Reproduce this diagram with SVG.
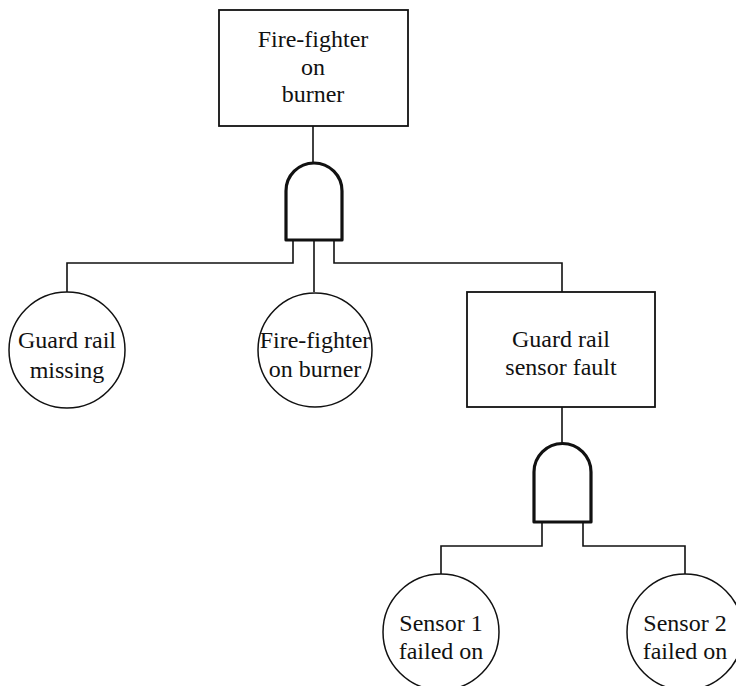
<svg xmlns="http://www.w3.org/2000/svg" width="736" height="686" viewBox="0 0 736 686">
<style>
.box{fill:#fff;stroke:#111;stroke-width:1.8}
.ev{fill:#fff;stroke:#111;stroke-width:1.5}
.gate{fill:#fff;stroke:#111;stroke-width:3.2;stroke-linejoin:round}
.wire{fill:none;stroke:#111;stroke-width:1.6}
text{font-family:"Liberation Serif","Times New Roman",serif;font-size:24px;fill:#111;text-anchor:middle}
</style>
<rect width="736" height="686" fill="#fff"/>
<g id="connectors">
<path class="wire" d="M313,126 V163"/>
<path class="wire" d="M293,240 V263 H67 V292"/>
<path class="wire" d="M314,240 V292"/>
<path class="wire" d="M334,240 V263 H562 V292"/>
<path class="wire" d="M562,407 V444"/>
<path class="wire" d="M542,522 V546 H441 V574"/>
<path class="wire" d="M583,522 V546 H685 V574"/>
</g>
<g id="top">
<rect class="box" x="219" y="10" width="189" height="116"/>
<text x="313" y="47">Fire-fighter</text>
<text x="313" y="75">on</text>
<text x="313" y="102">burner</text>
</g>
<g id="gate1">
<path class="gate" d="M286,240 V191 A28,28 0 0 1 342,191 V240 Z"/>
</g>
<g id="guard-rail-missing">
<circle class="ev" cx="67" cy="350" r="58"/>
<text x="67" y="348">Guard rail</text>
<text x="67" y="378">missing</text>
</g>
<g id="fire-fighter-on-burner">
<circle class="ev" cx="315" cy="350" r="57"/>
<text x="315" y="348">Fire-fighter</text>
<text x="315" y="377">on burner</text>
</g>
<g id="guard-rail-sensor-fault">
<rect class="box" x="467" y="292" width="188" height="115"/>
<text x="561" y="347">Guard rail</text>
<text x="561" y="375">sensor fault</text>
</g>
<g id="gate2">
<path class="gate" d="M534,522 V472 A28.5,28.5 0 0 1 591,472 V522 Z"/>
</g>
<g id="sensor1">
<circle class="ev" cx="441" cy="632" r="58"/>
<text x="441" y="631">Sensor 1</text>
<text x="441" y="659">failed on</text>
</g>
<g id="sensor2">
<circle class="ev" cx="685" cy="632" r="58"/>
<text x="685" y="631">Sensor 2</text>
<text x="685" y="659">failed on</text>
</g>
</svg>
